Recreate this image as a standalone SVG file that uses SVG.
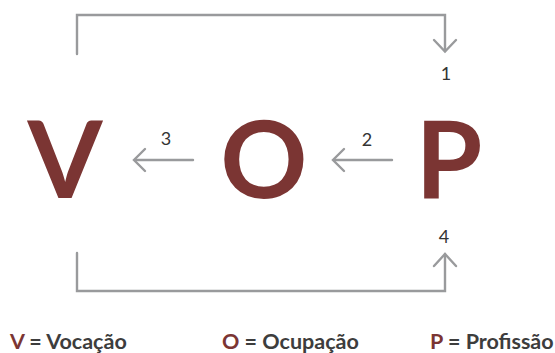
<svg xmlns="http://www.w3.org/2000/svg" width="555" height="353" viewBox="0 0 555 353">
<style>
.big{font-family:Lato,"Liberation Sans",sans-serif;font-weight:700;font-size:108px;fill:#7b3533;text-anchor:middle}
.num{font-family:Lato,"Liberation Sans",sans-serif;font-size:18px;fill:#333;text-anchor:middle}
.leg{font-family:Lato,"Liberation Sans",sans-serif;font-weight:700;font-size:21.5px;fill:#3d3d3d}
.key{fill:#7b3533}
.ln{fill:none;stroke:#999a9c;stroke-width:2.4;stroke-linecap:round;stroke-linejoin:miter}
</style>
<rect width="555" height="353" fill="#fff"/>
<g id="connectors">
<path class="ln" d="M77 54 V15 H445 V51"/>
<path class="ln" d="M434 40 L445 51.5 L456 40"/>
<path class="ln" d="M77 253 V291 H445 V254"/>
<path class="ln" d="M434 266 L445 254 L456 266"/>
<path class="ln" d="M392 160 H334"/>
<path class="ln" d="M344 149 L333 160 L344 171"/>
<path class="ln" d="M193 160 H135"/>
<path class="ln" d="M145 149 L134 160 L145 171"/>
<text class="num" x="446" y="80">1</text>
<text class="num" x="367" y="146">2</text>
<text class="num" x="166" y="145">3</text>
<text class="num" x="444" y="243">4</text>
</g>
<g id="node-V"><text class="big" x="65" y="198">V</text></g>
<g id="node-O"><text class="big" x="264" y="198">O</text></g>
<g id="node-P"><text class="big" x="449" y="198">P</text></g>
<g id="legend">
<text class="leg" x="10" y="349"><tspan class="key">V</tspan> = Vocação</text>
<text class="leg" x="222" y="349"><tspan class="key">O</tspan> = Ocupação</text>
<text class="leg" x="430" y="349"><tspan class="key">P</tspan> = Profissão</text>
</g>
</svg>
